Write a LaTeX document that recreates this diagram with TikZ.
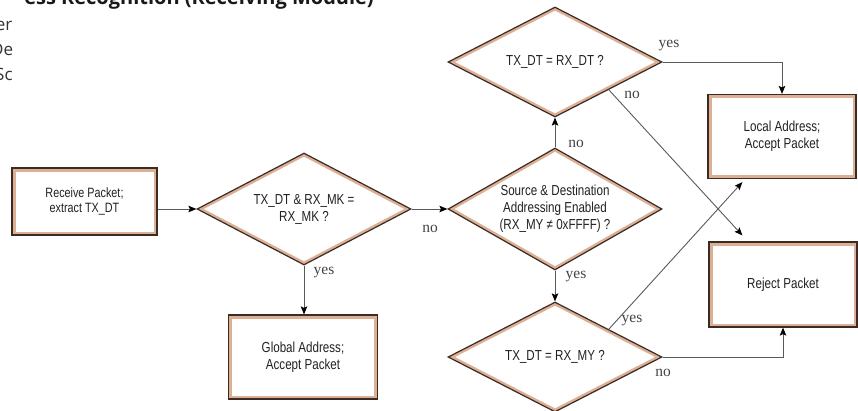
\documentclass[tikz,border=0pt]{standalone}
\usepackage{fontspec}
\setmainfont{Liberation Sans}[FakeStretch=0.8]
\newfontfamily\labelfont{Liberation Serif}
\newfontfamily\pagefont{Open Sans}
\usetikzlibrary{shapes.geometric,arrows.meta,calc}
\definecolor{edgedark}{HTML}{3A2C24}
\definecolor{peach}{HTML}{DDAF94}
\definecolor{wirecol}{HTML}{5A5A5A}
\definecolor{txtcol}{HTML}{222222}
\definecolor{lblcol}{HTML}{444444}
\tikzset{
  box/.style={rectangle, draw=edgedark, line width=1.2pt, fill=white, inner sep=0pt,
    align=center, text=txtcol, font=\fontsize{14.5}{17}\selectfont,
    path picture={\draw[peach, line width=7pt] (path picture bounding box.south west) rectangle (path picture bounding box.north east);}},
  dia/.style={diamond, draw=edgedark, line width=1.2pt, fill=white, inner sep=0pt,
    path picture={\draw[peach, line width=6pt] (path picture bounding box.north) -- (path picture bounding box.east) -- (path picture bounding box.south) -- (path picture bounding box.west) -- cycle;}},
  dtxt/.style={align=center, text=txtcol, inner sep=0pt, font=\fontsize{14.5}{17}\selectfont},
  wire/.style={draw=wirecol, line width=0.9pt, -{Stealth[length=8pt,width=6.5pt,inset=1.5pt,color=black]}},
  lbl/.style={font=\labelfont\fontsize{15.5}{15.5}\selectfont, text=lblcol, inner sep=0pt},
  frag/.style={inner sep=0pt, text=black!80, font=\pagefont\fontsize{17}{17}\selectfont},
}
\begin{document}
\begin{tikzpicture}[x=1pt,y=-1pt]
\useasboundingbox (0,0) rectangle (858,410);
\fill[white] (0,0) rectangle (858,410);

% cut-off page text
\node[anchor=base east, inner sep=0pt, text=black!90, font=\pagefont\bfseries\fontsize{20}{20}\selectfont] (title) at (374,4) {ess Recognition (Receiving Module)};
\begin{scope}
  \clip (0,0) rectangle (12.5,90);
  \node[frag, anchor=base east] (fa) at (12.5,30) {er};
  \node[frag, anchor=base west] (fb) at (-9,55) {De};
  \node[frag, anchor=base west] (fc) at (-5,80) {Sc};
\end{scope}

% boxes
\node[box, minimum width=145pt, minimum height=67pt, font=\fontsize{13.5}{15}\selectfont] (recv) at (84.5,201.5) {Receive Packet;\\extract TX\_DT};
\node[box, minimum width=149pt, minimum height=84pt] (global) at (303,357) {Global Address;\\Accept Packet};
\node[box, minimum width=148pt, minimum height=84pt] (local) at (782,136.5) {Local Address;\\Accept Packet};
\node[box, minimum width=148pt, minimum height=85pt] (reject) at (783,284.5) {Reject Packet};

% diamonds
\node[dia, minimum width=214pt, minimum height=112pt, label={[dtxt]center:TX\_DT \& RX\_MK =\\RX\_MK ?}] (d1) at (304,209) {};
\node[dia, minimum width=214pt, minimum height=122pt, label={[dtxt]center:Source \& Destination\\Addressing Enabled\\(RX\_MY ≠ 0xFFFF) ?}] (d2) at (555,209) {};
\node[dia, minimum width=214pt, minimum height=110pt, label={[dtxt]center:TX\_DT = RX\_DT ?}] (d3) at (555,62) {};
\node[dia, minimum width=214pt, minimum height=110pt, label={[dtxt]center:TX\_DT = RX\_MY ?}] (d4) at (555,357) {};

% connectors
\draw[wire] (recv.east |- d1.west) -- (d1.west);
\draw[wire] (d1.east) -- (d2.west);
\draw[wire] (d1.south) -- (d1.south |- global.north);
\draw[wire] (d2.north) -- (d3.south);
\draw[wire] (d2.south) -- (d4.north);
\draw[wire] (d3.east) -| (local.north);
\draw[wire] (d4.east) -| (reject.south);
\coordinate (d3no) at ($(d3.east)!0.5!(d3.south)$);
\coordinate (d4yes) at ($(d4.north)!0.5!(d4.east)$);
\coordinate (rejin) at ($(reject.north west)+(34,-6)$);
\coordinate (locin) at ($(local.south west)+(35,3)$);
\draw[wire] (d3no) -- (rejin);
\draw[wire] (d4yes) -- (locin);

% labels
\node[lbl] (l1) at (430,229) {no};
\node[lbl] (l2) at (324,273) {yes};
\node[lbl] (l3) at (576,144) {no};
\node[lbl] (l4) at (576,277) {yes};
\node[lbl] (l5) at (669,46) {yes};
\node[lbl] (l6) at (632,95) {no};
\node[lbl] (l7) at (632,321) {yes};
\node[lbl] (l8) at (663,373) {no};
\end{tikzpicture}
\end{document}
